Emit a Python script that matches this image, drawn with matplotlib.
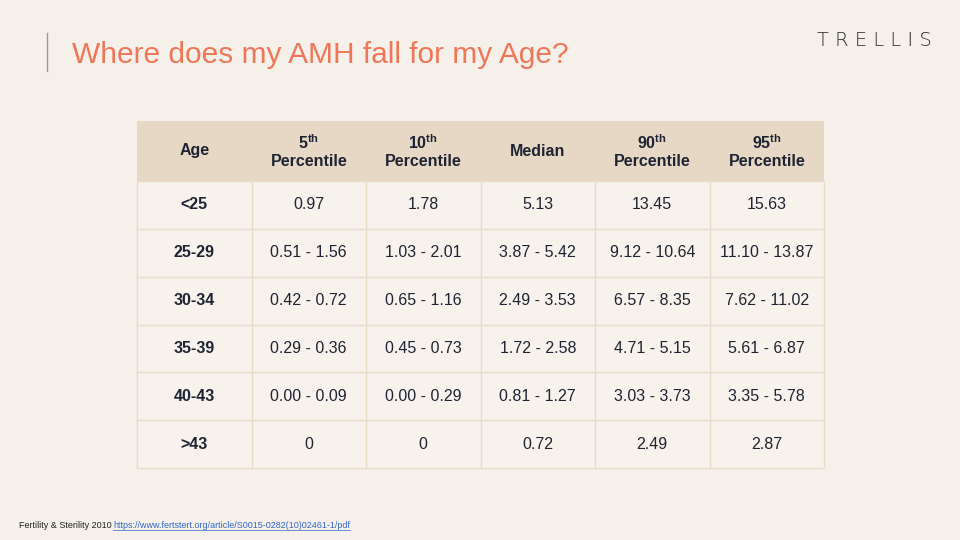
import matplotlib
matplotlib.use("Agg")
import matplotlib.pyplot as plt
from matplotlib.patches import Rectangle

plt.rcParams["font.family"] = "Liberation Sans"
plt.rcParams["mathtext.fontset"] = "custom"
plt.rcParams["mathtext.rm"] = "Liberation Sans"
plt.rcParams["mathtext.bf"] = "Liberation Sans:bold"

headers = ["Age", "5$^{\\mathbf{th}}$\nPercentile", "10$^{\\mathbf{th}}$\nPercentile", "Median",
           "90$^{\\mathbf{th}}$\nPercentile", "95$^{\\mathbf{th}}$\nPercentile"]
ages = ["<25", "25-29", "30-34", "35-39", "40-43", ">43"]
p5 = ["0.97", "0.51 - 1.56", "0.42 - 0.72", "0.29 - 0.36", "0.00 - 0.09", "0"]
p10 = ["1.78", "1.03 - 2.01", "0.65 - 1.16", "0.45 - 0.73", "0.00 - 0.29", "0"]
median = ["5.13", "3.87 - 5.42", "2.49 - 3.53", "1.72 - 2.58", "0.81 - 1.27", "0.72"]
p90 = ["13.45", "9.12 - 10.64", "6.57 - 8.35", "4.71 - 5.15", "3.03 - 3.73", "2.49"]
p95 = ["15.63", "11.10 - 13.87", "7.62 - 11.02", "5.61 - 6.87", "3.35 - 5.78", "2.87"]

bg = "#F5F0EA"
head_bg = "#E7D7C5"
cell_bg = "#F7F2EC"
line_c = "#EADBC9"
text_c = "#1E2433"

fig = plt.figure(figsize=(9.6, 5.4), dpi=100, facecolor=bg)
ax = fig.add_axes([0, 0, 1, 1])
ax.set_xlim(0, 960)
ax.set_ylim(540, 0)
ax.axis("off")

# title bar and logo
ax.plot([47, 47], [33, 71], color="#9A9A9A", lw=1)
ax.text(72, 55, "Where does my AMH fall for my Age?", fontsize=21.5, color="#EE7758", va="center")
ax.text(932, 40, "T R E L L I S", fontsize=14, color="#2A2A2A", va="center", ha="right",
        family="DejaVu Sans", fontweight="light")

# table
x0, x1 = 137, 824
y_head0, y_head1 = 121, 181
row_h = (468 - 181) / len(ages)
ncol = len(headers)
col_w = (x1 - x0) / ncol

ax.add_patch(Rectangle((x0, y_head0), x1 - x0, y_head1 - y_head0, color=head_bg, lw=0))
ax.add_patch(Rectangle((x0, y_head1), x1 - x0, row_h * len(ages), facecolor=cell_bg,
                       edgecolor=line_c, lw=1))
for i, h in enumerate(headers):
    cx = x0 + (i + 0.5) * col_w
    ax.text(cx, (y_head0 + y_head1) / 2, h, ha="center", va="center", fontsize=11.5,
            fontweight="bold", color=text_c, linespacing=1.2)

columns = [ages, p5, p10, median, p90, p95]
for r in range(len(ages)):
    ytop = y_head1 + r * row_h
    if r > 0:
        ax.plot([x0, x1], [ytop, ytop], color=line_c, lw=1)
    for c, col in enumerate(columns):
        cx = x0 + (c + 0.5) * col_w
        ax.text(cx, ytop + row_h / 2, col[r], ha="center", va="center", fontsize=11.5,
                color=text_c, fontweight="bold" if c == 0 else "normal")
for c in range(1, ncol):
    xx = x0 + c * col_w
    ax.plot([xx, xx], [y_head1, y_head1 + row_h * len(ages)], color=line_c, lw=1)

# footnote
ax.text(19, 526, "Fertility & Sterility 2010 ", fontsize=6.5, color="#222222", va="center")
ax.text(113, 526, "https://www.fertstert.org/article/S0015-0282(10)02461-1/pdf",
        fontsize=6.5, color="#3366CC", va="center")
ax.plot([113, 350], [530, 530], color="#3366CC", lw=0.5)

fig.savefig("out.png", dpi=100, facecolor=bg)
